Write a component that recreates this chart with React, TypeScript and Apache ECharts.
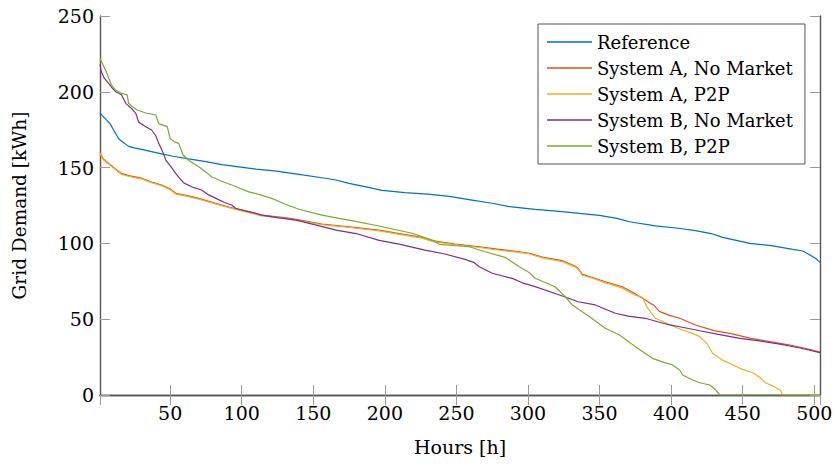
import React, { useEffect, useRef } from "react";
import * as echarts from "echarts";

const seriesNames = [
  "Reference",
  "System A, No Market",
  "System A, P2P",
  "System B, No Market",
  "System B, P2P",
];

const colors = ["#0072BD", "#D95319", "#EDB120", "#7E2F8E", "#77AC30"];

const xTicks = [50, 100, 150, 200, 250, 300, 350, 400, 450, 500];
const yTicks = [0, 50, 100, 150, 200, 250];

const reference: [number, number][] = [
  [1, 186], [3, 184], [5, 182], [8, 179], [11, 174], [14, 169], [18, 166], [21, 164],
  [25, 163], [30, 162], [37, 160.5], [44, 159], [52, 157.5], [63, 155.7], [75, 154],
  [86, 152], [98, 150.5], [110, 149], [123, 147.8], [140, 145.5], [156, 143.3], [165, 142],
  [175, 139.6], [186, 137.5], [198, 135], [214, 133.5], [230, 132.5], [245, 131], [261, 128.6],
  [275, 126.5], [287, 124.2], [305, 122.5], [320, 121.3], [336, 119.8], [350, 118.5],
  [362, 116.5], [371, 114.3], [389, 111.5], [405, 110], [417, 108.4], [428, 106.5], [436, 104],
  [455, 100], [470, 98.5], [485, 96], [492, 95], [497, 92.3], [501, 90], [504, 87.5],
];

const sysANoMarket: [number, number][] = [
  [1, 160], [3, 156], [7, 152.8], [12, 149], [16, 146], [22, 144.5], [30, 143], [37, 140.5],
  [44, 138.5], [50, 136], [54, 133], [62, 131.5], [70, 129.7], [80, 127], [91, 124], [100, 122],
  [114, 118.7], [130, 117], [140, 115.5], [156, 112.8], [175, 111], [196, 108.8], [210, 106.5],
  [226, 104], [233, 101.8], [249, 99.6], [266, 97.8], [280, 96], [294, 94.5], [301, 93.5],
  [310, 91], [324, 88.6], [333, 85], [335, 83.6], [338, 79.6], [345, 77.5], [354, 74.7],
  [366, 71.4], [375, 66.6], [382, 62.7], [388, 59], [392, 55], [399, 52.5], [406, 50.6],
  [417, 46.2], [430, 42.5], [441, 40.7], [455, 37.5], [469, 35.2], [483, 33], [495, 30.5],
  [504, 28.3],
];

const sysAP2P: [number, number][] = [
  [1, 159.5], [3, 155.5], [7, 152.3], [12, 148.5], [16, 145.5], [22, 144], [30, 142.5],
  [37, 140], [44, 138], [50, 135.5], [54, 132.5], [62, 131], [70, 129.2], [80, 126.5],
  [91, 123.5], [100, 121.5], [114, 118.2], [130, 116.5], [140, 115], [156, 112.3], [175, 110.5],
  [196, 108.3], [210, 106], [226, 103.5], [233, 101.3], [249, 99.1], [266, 97.3], [280, 95.5],
  [294, 94], [301, 93], [310, 90.5], [324, 88], [333, 84.5], [335, 83], [338, 79], [345, 77],
  [354, 74], [366, 70.5], [375, 65.8], [380, 64.5], [383, 58.2], [389, 50.6], [399, 46.5],
  [406, 43.5], [414, 41], [420, 38.5], [425, 34], [429, 27.5], [436, 23], [448, 17.6],
  [457, 14.7], [462, 11.5], [466, 8.1], [472, 5.5], [476, 3.3], [478, 0], [504, 0],
];

const sysBNoMarket: [number, number][] = [
  [1, 218], [2, 213], [4, 209], [7, 205.5], [10, 202], [12, 200], [16, 198], [19, 192.4],
  [23, 189], [26, 185.8], [28, 180], [33, 177], [37, 174.8], [40, 171], [42, 166], [45, 160],
  [47, 155], [51, 150], [54, 146], [57, 142.5], [60, 139.6], [66, 137], [72, 135.2], [77, 132],
  [82, 129.7], [88, 127], [93, 125.3], [96, 123], [105, 121], [114, 118.7], [125, 117],
  [138, 115.4], [150, 112.5], [166, 108.8], [180, 106.5], [196, 102], [210, 99.5], [228, 95.6],
  [242, 93], [256, 89.5], [262, 87.5], [266, 84.6], [275, 80.3], [289, 76.9], [296, 74],
  [305, 71.5], [324, 65.3], [335, 61.5], [347, 59.4], [361, 53.9], [370, 52], [382, 50.6],
  [390, 48.5], [399, 46.2], [406, 45], [420, 42.4], [433, 40], [448, 37.4], [463, 35.5],
  [476, 33.6], [490, 31], [504, 28],
];

const sysBP2P: [number, number][] = [
  [1, 222], [3, 218], [5, 214], [9, 204.5], [12, 201], [16, 199], [20, 198], [21, 192.4],
  [24, 190], [27, 188], [33, 186], [40, 184.7], [42, 179], [45, 178], [48, 177], [50, 169.3],
  [53, 167], [56, 166], [59, 158.3], [64, 154], [70, 150.6], [75, 147], [79, 144], [86, 141],
  [93, 138.5], [105, 134], [113, 132], [121, 129.7], [130, 126], [140, 122.5], [156, 118.7],
  [168, 116.5], [175, 115.4], [196, 111.5], [203, 110], [219, 106.7], [233, 102.2], [238, 99.4],
  [259, 97.8], [270, 94.5], [284, 90.8], [294, 84.6], [301, 80.7], [305, 77], [319, 71.4],
  [326, 64.8], [331, 59.4], [343, 51.6], [354, 44], [364, 39.6], [375, 31.9], [387, 24.2],
  [395, 21.5], [401, 19.8], [406, 16.5], [408, 13.2], [415, 9.9], [420, 8.1], [427, 6.6],
  [431, 3.5], [434, 0], [504, 0],
];

const allData = [reference, sysANoMarket, sysAP2P, sysBNoMarket, sysBP2P];

const FONT = "DejaVu Serif";

export default function App() {
  const ref = useRef<HTMLDivElement>(null);
  useEffect(() => {
    if (!ref.current) return;
    const chart = echarts.init(ref.current, undefined, { renderer: "svg" });
    const tickCommon = {
      show: true,
      inside: true,
      length: 10,
      lineStyle: { color: "#9a9a9a", width: 1 },
    };
    const lineCommon = { show: true, lineStyle: { color: "#555", width: 1.4 } };
    const xBase = {
      type: "value" as const,
      min: 1,
      max: 504,
      minInterval: 50,
      maxInterval: 50,
      splitNumber: 10,
      splitLine: { show: false },
      axisLine: lineCommon,
      axisTick: tickCommon,
    };
    const yBase = {
      type: "value" as const,
      min: yTicks[0],
      max: yTicks[yTicks.length - 1],
      interval: 50,
      splitLine: { show: false },
      axisLine: lineCommon,
      axisTick: tickCommon,
    };
    chart.setOption({
      animation: false,
      backgroundColor: "#fff",
      color: colors,
      grid: { left: 100, right: 17, top: 16, bottom: 71, containLabel: false },
      xAxis: [
        {
          ...xBase,
          position: "bottom",
          name: "Hours [h]",
          nameLocation: "middle",
          nameGap: 42,
          nameTextStyle: { fontFamily: FONT, fontSize: 19, color: "#000" },
          axisLabel: {
            fontFamily: FONT,
            fontSize: 19,
            color: "#000",
            margin: 8,
            showMinLabel: false,
            showMaxLabel: false,
            formatter: (v: number) => (xTicks.includes(v) ? String(v) : ""),
          },
        },
        { ...xBase, position: "top", axisLabel: { show: false } },
      ],
      yAxis: [
        {
          ...yBase,
          position: "left",
          name: "Grid Demand [kWh]",
          nameLocation: "middle",
          nameGap: 71,
          nameTextStyle: { fontFamily: FONT, fontSize: 18.5, color: "#000" },
          axisLabel: { fontFamily: FONT, fontSize: 19, color: "#000", margin: 6 },
        },
        { ...yBase, position: "right", axisLabel: { show: false } },
      ],
      legend: {
        orient: "vertical",
        left: 538,
        top: 24,
        icon: "rect",
        itemWidth: 45,
        itemHeight: 1.5,
        itemGap: 6,
        padding: [8, 12, 8, 9],
        borderColor: "#555",
        borderWidth: 1,
        backgroundColor: "#fff",
        textStyle: { fontFamily: FONT, fontSize: 18, color: "#000", lineHeight: 20 },
        data: seriesNames,
      },
      series: seriesNames.map((name, i) => ({
        name,
        type: "line",
        data: allData[i],
        showSymbol: false,
        symbol: "none",
        lineStyle: { width: 1.2, color: colors[i] },
        itemStyle: { color: colors[i] },
        z: 2 + i,
      })),
    });
    return () => chart.dispose();
  }, []);
  return (
    <div
      ref={ref}
      style={{ position: "absolute", left: 0, top: 0, width: 837, height: 466 }}
    />
  );
}
